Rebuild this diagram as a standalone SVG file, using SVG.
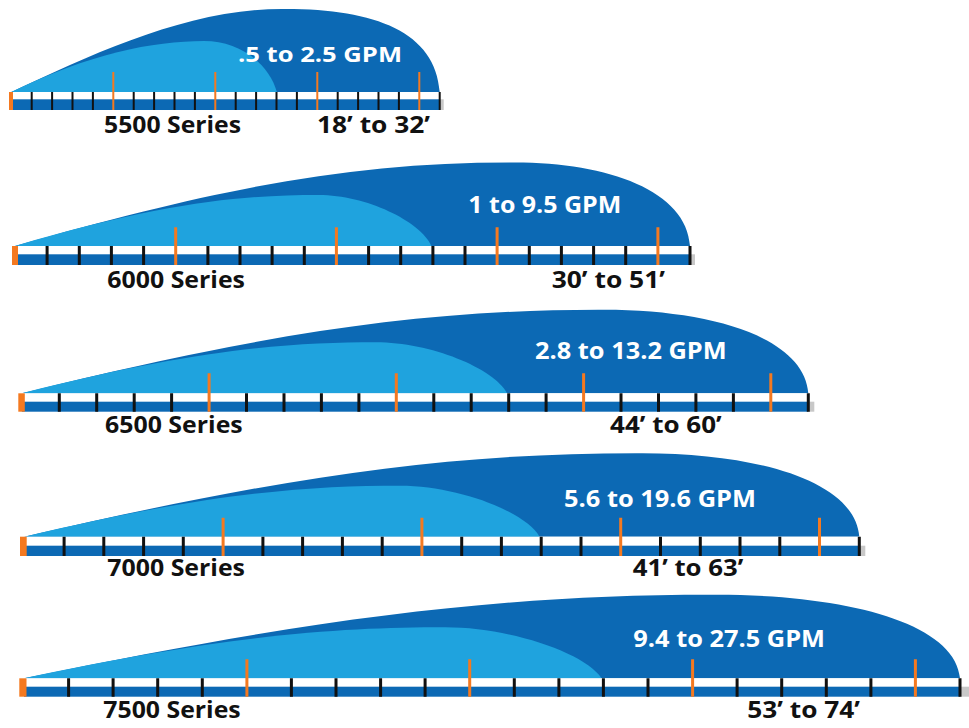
<svg xmlns="http://www.w3.org/2000/svg" xmlns:xlink="http://www.w3.org/1999/xlink" width="969" height="728" viewBox="0 0 969 728">
<style>
.dark{fill:#0c69b4}
.light{fill:#1fa3de}
.white{fill:#ffffff}
.grey{fill:#c8c8c8}
.orng{fill:#f47920}
.tk{stroke:#111111;stroke-width:3;fill:none}
.otk{stroke:#f47920;stroke-width:3;fill:none}
.lbl{font-family:"Open Sans","Liberation Sans",sans-serif;font-weight:bold;font-size:23px;fill:#111111}
.gpm{font-family:"Open Sans","Liberation Sans",sans-serif;font-weight:bold;font-size:23px;fill:#ffffff}
</style>
<defs>
<path id="darkShape" d="M0,0 C300,-58 500,-84 740,-83.5 C880,-83.5 995,-55 1000,0 Z"/>
<path id="lightShape" d="M0,0 C220,-44 340,-51 450,-51 C520,-51 600,-25 617,0 Z"/>
<path id="darkShape1" d="M0,0 C200,-40 420,-84 640,-83 C850,-83 990,-60 1000,0 Z"/>
<path id="lightShape1" d="M0,0 C180,-38 330,-51 450,-51 C530,-51 600,-30 620,0 Z"/>
</defs>

<g id="row-5500">
  <use xlink:href="#darkShape1" class="dark" transform="translate(11.3,92) scale(0.4284,1)"/>
  <use xlink:href="#lightShape1" class="light" transform="translate(11.3,92) scale(0.4284,1)"/>
  <rect class="white" x="11.3" y="92" width="428.4" height="7.3"/>
  <rect class="dark" x="11.3" y="99.3" width="428.4" height="10.7"/>
  <rect class="grey" x="439.7" y="99.3" width="4" height="10.7"/>
  <path class="tk" style="stroke-width:2" d="M31.7 92V110M52.1 92V110M72.5 92V110M92.9 92V110M133.7 92V110M154.1 92V110M174.5 92V110M194.9 92V110M235.7 92V110M256.1 92V110M276.5 92V110M296.9 92V110M337.7 92V110M358.1 92V110M378.5 92V110M398.9 92V110M439.7 92V110"/>
  <path class="otk" style="stroke-width:2" d="M113.3 72V110M215.3 72V110M317.3 72V110M419.3 72V110"/>
  <rect class="orng" x="9" y="92" width="4" height="18"/>
  <text class="gpm" style="font-size:21px" x="238" y="61.7" textLength="164" lengthAdjust="spacingAndGlyphs">.5 to 2.5 GPM</text>
  <text class="lbl" x="104" y="133.3" textLength="137" lengthAdjust="spacingAndGlyphs">5500 Series</text>
  <text class="lbl" x="317" y="133.3" textLength="113" lengthAdjust="spacingAndGlyphs">18’ to 32’</text>
</g>

<g id="row-6000">
  <use xlink:href="#darkShape" class="dark" transform="translate(15,246) scale(0.675,1)"/>
  <use xlink:href="#lightShape" class="light" transform="translate(15,246) scale(0.675,1)"/>
  <rect class="white" x="15" y="246" width="675" height="8.3"/>
  <rect class="dark" x="15" y="254.3" width="675" height="10.7"/>
  <rect class="grey" x="690" y="254.3" width="5" height="10.7"/>
  <path class="tk" d="M47.1 246V265M79.3 246V265M111.4 246V265M143.6 246V265M207.9 246V265M240 246V265M272.1 246V265M304.3 246V265M368.6 246V265M400.7 246V265M432.9 246V265M465 246V265M529.3 246V265M561.4 246V265M593.6 246V265M625.7 246V265M690 246V265"/>
  <path class="otk" d="M175.7 227.3V265M336.4 227.3V265M497.1 227.3V265M657.9 227.3V265"/>
  <rect class="orng" x="12" y="246" width="6" height="19"/>
  <text class="gpm" x="468.3" y="213.3" textLength="153" lengthAdjust="spacingAndGlyphs">1 to 9.5 GPM</text>
  <text class="lbl" x="107.3" y="288.3" textLength="137.7" lengthAdjust="spacingAndGlyphs">6000 Series</text>
  <text class="lbl" x="551.7" y="288.3" textLength="113.3" lengthAdjust="spacingAndGlyphs">30’ to 51’</text>
</g>

<g id="row-6500">
  <use xlink:href="#darkShape" class="dark" transform="translate(21.8,393.3) scale(0.7865,1)"/>
  <use xlink:href="#lightShape" class="light" transform="translate(21.8,393.3) scale(0.7865,1)"/>
  <rect class="white" x="21.8" y="393.3" width="786.5" height="8.4"/>
  <rect class="dark" x="21.8" y="401.7" width="786.5" height="10"/>
  <rect class="grey" x="808.3" y="401.7" width="6" height="10"/>
  <path class="tk" d="M59.3 393.3V411.7M96.7 393.3V411.7M134.2 393.3V411.7M171.6 393.3V411.7M246.5 393.3V411.7M284 393.3V411.7M321.4 393.3V411.7M358.9 393.3V411.7M433.8 393.3V411.7M471.2 393.3V411.7M508.7 393.3V411.7M546.1 393.3V411.7M621 393.3V411.7M658.5 393.3V411.7M695.9 393.3V411.7M733.4 393.3V411.7M808.3 393.3V411.7"/>
  <path class="otk" d="M209.1 373.3V411.7M396.3 373.3V411.7M583.6 373.3V411.7M770.8 373.3V411.7"/>
  <rect class="orng" x="18.3" y="393.3" width="6.5" height="18.4"/>
  <text class="gpm" x="535" y="359.3" textLength="191.7" lengthAdjust="spacingAndGlyphs">2.8 to 13.2 GPM</text>
  <text class="lbl" x="105" y="433.3" textLength="137.7" lengthAdjust="spacingAndGlyphs">6500 Series</text>
  <text class="lbl" x="610" y="433.3" textLength="111.7" lengthAdjust="spacingAndGlyphs">44’ to 60’</text>
</g>

<g id="row-7000">
  <use xlink:href="#darkShape" class="dark" transform="translate(24.3,536.7) scale(0.835,1)"/>
  <use xlink:href="#lightShape" class="light" transform="translate(24.3,536.7) scale(0.835,1)"/>
  <rect class="white" x="24.3" y="536.7" width="835" height="9"/>
  <rect class="dark" x="24.3" y="545.7" width="835" height="10.3"/>
  <rect class="grey" x="859.3" y="545.7" width="6" height="10.3"/>
  <path class="tk" d="M64.1 536.7V556M103.8 536.7V556M143.6 536.7V556M183.3 536.7V556M262.9 536.7V556M302.6 536.7V556M342.4 536.7V556M382.2 536.7V556M461.7 536.7V556M501.4 536.7V556M541.2 536.7V556M581 536.7V556M660.5 536.7V556M700.3 536.7V556M740 536.7V556M779.8 536.7V556M859.3 536.7V556"/>
  <path class="otk" d="M223.1 517.7V556M421.9 517.7V556M620.7 517.7V556M819.5 517.7V556"/>
  <rect class="orng" x="20" y="536.7" width="6.7" height="19.3"/>
  <text class="gpm" x="564" y="506.7" textLength="192" lengthAdjust="spacingAndGlyphs">5.6 to 19.6 GPM</text>
  <text class="lbl" x="107.3" y="575.7" textLength="137.7" lengthAdjust="spacingAndGlyphs">7000 Series</text>
  <text class="lbl" x="632.7" y="575.7" textLength="110.6" lengthAdjust="spacingAndGlyphs">41’ to 63’</text>
</g>

<g id="row-7500">
  <use xlink:href="#darkShape" class="dark" transform="translate(24,678.3) scale(0.936,1)"/>
  <use xlink:href="#lightShape" class="light" transform="translate(24,678.3) scale(0.936,1)"/>
  <rect class="white" x="24" y="678.3" width="936" height="8.4"/>
  <rect class="dark" x="24" y="686.7" width="936" height="10"/>
  <rect class="grey" x="960" y="686.7" width="9" height="10"/>
  <path class="tk" d="M68.6 678.3V696.7M113.1 678.3V696.7M157.7 678.3V696.7M202.3 678.3V696.7M291.4 678.3V696.7M336 678.3V696.7M380.6 678.3V696.7M425.1 678.3V696.7M514.3 678.3V696.7M558.9 678.3V696.7M603.4 678.3V696.7M648 678.3V696.7M737.1 678.3V696.7M781.7 678.3V696.7M826.3 678.3V696.7M870.9 678.3V696.7M960 678.3V696.7"/>
  <path class="otk" d="M246.9 659.3V696.7M469.7 659.3V696.7M692.6 659.3V696.7M915.4 659.3V696.7"/>
  <rect class="orng" x="19.3" y="678.3" width="7.2" height="18.4"/>
  <text class="gpm" x="633.3" y="646.7" textLength="191.7" lengthAdjust="spacingAndGlyphs">9.4 to 27.5 GPM</text>
  <text class="lbl" x="103.3" y="717.7" textLength="137.4" lengthAdjust="spacingAndGlyphs">7500 Series</text>
  <text class="lbl" x="747.3" y="717.7" textLength="112.7" lengthAdjust="spacingAndGlyphs">53’ to 74’</text>
</g>
</svg>
